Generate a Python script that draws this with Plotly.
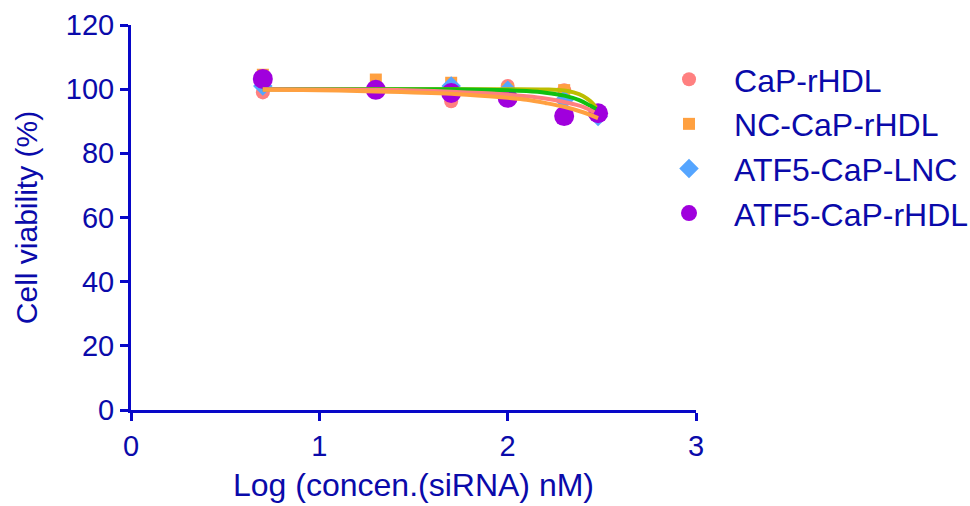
import plotly.graph_objects as go

# ---- data ----
log_conc = [0.7, 1.3, 1.7, 2.0, 2.3, 2.48]
series_names = ["CaP-rHDL", "NC-CaP-rHDL", "ATF5-CaP-LNC", "ATF5-CaP-rHDL"]
cap_rhdl = [99.0, 100.0, 96.2, 101.0, 99.7, 92.0]
nc_cap_rhdl = [104.5, 103.0, 102.0, 100.0, 99.7, 92.0]
atf5_cap_lnc = [101.0, 100.0, 101.0, 99.7, 96.6, 91.5]
atf5_cap_rhdl = [103.2, 99.8, 98.8, 97.3, 91.6, 92.5]

# fitted curves
olive_x = [0.7, 1.5, 2.0, 2.2, 2.3, 2.35, 2.4, 2.44, 2.47]
olive_y = [100.0, 100.0, 100.0, 99.9, 99.6, 99.0, 97.9, 96.2, 94.3]
green_x = [0.7, 1.7, 2.0, 2.1, 2.2, 2.3, 2.38, 2.44, 2.47]
green_y = [100.0, 100.0, 99.7, 99.4, 98.9, 98.0, 96.6, 94.8, 93.8]
pink_x = [0.7, 1.3, 1.7, 2.0, 2.1, 2.2, 2.3, 2.4, 2.46]
pink_y = [100.0, 99.8, 99.2, 98.3, 97.8, 97.1, 96.0, 94.5, 92.8]
orange_x = [0.7, 1.0, 1.3, 1.5, 1.7, 1.9, 2.0, 2.1, 2.2, 2.3, 2.4, 2.48]
orange_y = [99.8, 99.7, 99.3, 99.0, 98.6, 97.8, 97.3, 96.7, 95.7, 94.5, 92.8, 91.0]

x_ticks = [0, 1, 2, 3]
y_ticks = [0, 20, 40, 60, 80, 100, 120]

TXT = "#0A0AAA"
AX = "#0808C8"
FONT = "Liberation Sans, Arial, sans-serif"

fig = go.Figure()
markers = [
    (cap_rhdl, "#FF8080", "circle", 14),
    (nc_cap_rhdl, "#FFA040", "square", 12),
    (atf5_cap_lnc, "#55A5FF", "diamond", 15),
    (atf5_cap_rhdl, "#A000DD", "circle", 20),
]
for name, (vals, col, sym, sz) in zip(series_names, markers):
    fig.add_trace(go.Scatter(
        x=log_conc, y=vals, mode="markers", name=name,
        marker=dict(color=col, symbol=sym, size=sz, line=dict(width=0)),
        cliponaxis=False,
    ))

for cx, cy, col in [(olive_x, olive_y, "#BDBD00"), (green_x, green_y, "#10C010"),
                    (pink_x, pink_y, "#FF8080"), (orange_x, orange_y, "#FFA040")]:
    fig.add_trace(go.Scatter(
        x=cx, y=cy, mode="lines", showlegend=False,
        line=dict(color=col, width=4, shape="spline"), hoverinfo="skip",
    ))

axis_common = dict(
    showline=True, linecolor=AX, linewidth=3, ticks="outside", tickcolor=AX,
    tickwidth=3, ticklen=8, showgrid=False, zeroline=False,
    tickfont=dict(family=FONT, size=29, color=TXT),
)
fig.update_layout(
    width=970, height=506,
    margin=dict(l=131, r=274, t=25, b=96, autoexpand=False),
    paper_bgcolor="white", plot_bgcolor="white",
    font=dict(family=FONT, color=TXT),
    xaxis=dict(range=[0, 3], tickvals=x_ticks,
               title=dict(text="Log (concen.(siRNA) nM)", font=dict(family=FONT, size=32, color=TXT), standoff=13),
               **axis_common),
    yaxis=dict(range=[0, 120], tickvals=y_ticks,
               title=dict(text="Cell viability (%)", font=dict(family=FONT, size=30, color=TXT), standoff=20),
               **axis_common),
    legend=dict(x=0.908, y=0.93, xanchor="left", yanchor="top",
                font=dict(family=FONT, size=32, color=TXT),
                bgcolor="rgba(0,0,0,0)", itemsizing="trace", itemwidth=80),
)

fig.write_html("out.html")
